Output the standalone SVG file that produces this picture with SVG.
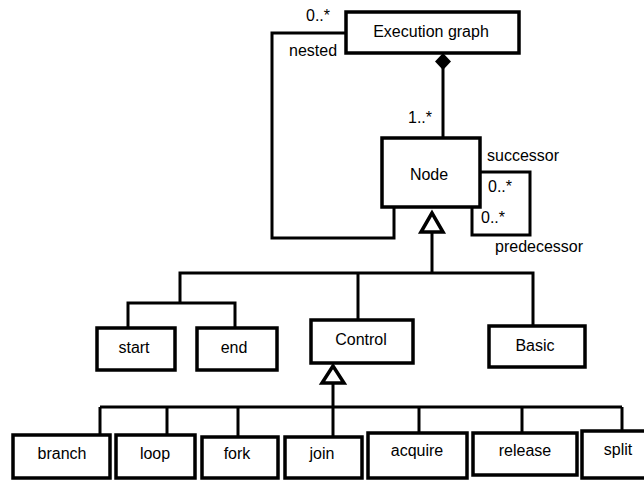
<svg xmlns="http://www.w3.org/2000/svg" width="644" height="481" viewBox="0 0 644 481">
  <style>
    .box { fill: #ffffff; stroke: #000000; stroke-width: 3.5; }
    .lbl { font-family: "Liberation Sans", Arial, sans-serif; font-size: 16px; fill: #000000; text-anchor: middle; }
    .role { font-family: "Liberation Sans", Arial, sans-serif; font-size: 16px; fill: #000000; }
    .wire { fill: none; stroke: #000000; stroke-width: 3; }
    .gen { fill: #ffffff; stroke: #000000; stroke-width: 3.5; stroke-linejoin: miter; }
  </style>
  <rect width="644" height="481" fill="#ffffff"/>

  <!-- connectors -->
  <g id="connectors">
    <!-- composition: Execution graph owns Node -->
    <line class="wire" x1="443" y1="68" x2="443" y2="138"/>
    <polygon points="443,53 451,61.5 443,70 435,61.5" fill="#000000"/>
    <!-- nested association -->
    <polyline class="wire" points="346,33 272,33 272,238 394,238 394,207"/>
    <!-- successor / predecessor self association -->
    <polyline class="wire" points="480,172 530,172 530,235 472,235 472,207"/>
    <!-- generalisation to Node -->
    <line class="wire" x1="432" y1="232" x2="432" y2="273"/>
    <polyline class="wire" points="180,303 180,273 533,273 533,326"/>
    <line class="wire" x1="358" y1="273" x2="358" y2="320"/>
    <polyline class="wire" points="128,328 128,303 235,303 235,328"/>
    <polygon class="gen" points="432,213 421,232 443,232"/>
    <!-- generalisation to Control -->
    <line class="wire" x1="333" y1="382" x2="333" y2="437"/>
    <line class="wire" x1="100" y1="407" x2="622" y2="407"/>
    <line class="wire" x1="100" y1="407" x2="100" y2="435"/>
    <line class="wire" x1="167" y1="407" x2="167" y2="435"/>
    <line class="wire" x1="238" y1="407" x2="238" y2="437"/>
    <line class="wire" x1="419" y1="407" x2="419" y2="433"/>
    <line class="wire" x1="522" y1="407" x2="522" y2="433"/>
    <line class="wire" x1="622" y1="407" x2="622" y2="431"/>
    <polygon class="gen" points="333,366 322,383 344,383"/>
    <!-- role and multiplicity labels -->
    <text class="role" x="306" y="21">0..*</text>
    <text class="role" x="289" y="56">nested</text>
    <text class="role" x="408" y="123">1..*</text>
    <text class="role" x="487" y="161">successor</text>
    <text class="role" x="488" y="192">0..*</text>
    <text class="role" x="481" y="223">0..*</text>
    <text class="role" x="495" y="252">predecessor</text>
  </g>

  <g id="execution-graph">
    <rect class="box" x="346" y="12" width="173" height="41"/>
    <text class="lbl" x="431" y="37">Execution graph</text>
  </g>
  <g id="node">
    <rect class="box" x="382" y="138" width="98" height="69"/>
    <text class="lbl" x="429" y="180">Node</text>
  </g>
  <g id="start">
    <rect class="box" x="97" y="328" width="78" height="42"/>
    <text class="lbl" x="134" y="353">start</text>
  </g>
  <g id="end">
    <rect class="box" x="197" y="328" width="80" height="42"/>
    <text class="lbl" x="234" y="353">end</text>
  </g>
  <g id="control">
    <rect class="box" x="311" y="320" width="102" height="43"/>
    <text class="lbl" x="361" y="345">Control</text>
  </g>
  <g id="basic">
    <rect class="box" x="489" y="326" width="96" height="41"/>
    <text class="lbl" x="535" y="351">Basic</text>
  </g>
  <g id="branch">
    <rect class="box" x="13" y="435" width="97" height="43"/>
    <text class="lbl" x="62" y="459">branch</text>
  </g>
  <g id="loop">
    <rect class="box" x="116" y="435" width="79" height="43"/>
    <text class="lbl" x="155" y="459">loop</text>
  </g>
  <g id="fork">
    <rect class="box" x="202" y="437" width="76" height="41"/>
    <text class="lbl" x="237" y="459">fork</text>
  </g>
  <g id="join">
    <rect class="box" x="285" y="437" width="77" height="41"/>
    <text class="lbl" x="322" y="459">join</text>
  </g>
  <g id="acquire">
    <rect class="box" x="368" y="433" width="99" height="45"/>
    <text class="lbl" x="417" y="456">acquire</text>
  </g>
  <g id="release">
    <rect class="box" x="473" y="433" width="104" height="42"/>
    <text class="lbl" x="525" y="456">release</text>
  </g>
  <g id="split">
    <rect class="box" x="582" y="431" width="66" height="47"/>
    <text class="lbl" x="618" y="455">split</text>
  </g>
</svg>
